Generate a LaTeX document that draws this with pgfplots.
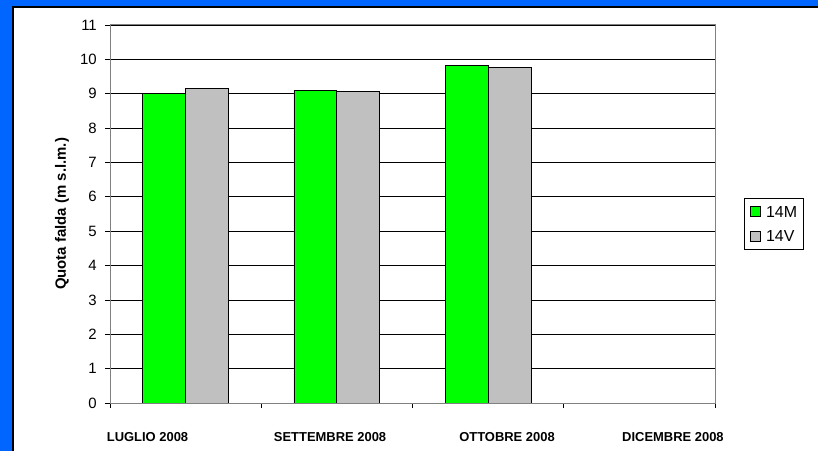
\documentclass[border=0pt]{standalone}
\usepackage{pgfplots}
\pgfplotsset{compat=1.18}
\usepackage{fontspec}
\setmainfont{Liberation Sans}
\definecolor{bgblue}{RGB}{0,102,255}
\definecolor{barg}{RGB}{0,255,0}
\definecolor{barv}{RGB}{192,192,192}
\pgfplotsset{sqlegend/.style={legend image code/.code={\draw[##1, draw=black, line width=0.6bp] (0bp,-5bp) rectangle (10bp,5bp);}}}
\begin{document}
\begin{tikzpicture}
\useasboundingbox (0bp,0bp) rectangle (818bp,451bp);
\fill[bgblue] (0bp,0bp) rectangle (818bp,451bp);
\fill[white] (13bp,0bp) rectangle (818bp,444bp);
\draw[black, line width=1.2bp] (13bp,0bp) -- (13bp,444bp) -- (818bp,444bp);
\begin{axis}[
  at={(110bp,48bp)}, anchor=south west,
  width=605bp, height=378bp, scale only axis,
  xmin=-0.5, xmax=3.5, ymin=0, ymax=11,
  ytick={0,1,2,3,4,5,6,7,8,9,10,11},
  ymajorgrids, grid style={black, line width=0.8bp},
  axis line style={gray, line width=1bp},
  tick pos=left,
  tick align=outside, major tick length=5bp, minor tick length=5bp,
  ytick style={black, line width=0.8bp},
  xtick={-0.252,0.955,2.125,3.222},
  xticklabels={LUGLIO 2008, SETTEMBRE 2008, OTTOBRE 2008, DICEMBRE 2008},
  minor xtick={-0.5,0.5,1.5,2.5,3.5},
  major x tick style={draw=none},
  minor x tick style={black, line width=0.8bp},
  xticklabel style={font=\bfseries\fontsize{13}{13}\selectfont, anchor=base, yshift=-33bp},
  yticklabel style={font=\fontsize{15}{15}\selectfont, anchor=east, inner sep=0pt, xshift=-8bp},
  /pgf/number format/assume math mode=true,
  ylabel={Quota falda (m s.l.m.)},
  ylabel style={font=\bfseries\fontsize{15}{15}\selectfont, at={(axis description cs:-0.0793,0.5)}, anchor=center},
  legend style={at={(rel axis cs:1.048,0.542)}, anchor=north west, draw=black, line width=0.8bp,
    font=\fontsize{16}{16}\selectfont, cells={anchor=west},
    nodes={inner sep=0pt, text height=11.5bp, text depth=1bp},
    row sep=12bp, column sep=5bp, inner xsep=6bp, inner ysep=7bp},
  ybar, bar width=0.284,
]
\addplot[fill=barg, draw=black, line width=0.8bp, bar shift=-0.142, sqlegend] coordinates {(0,9.02) (1,9.10) (2,9.81)};
\addplot[fill=barv, draw=black, line width=0.8bp, bar shift=0.142, sqlegend] coordinates {(0,9.16) (1,9.07) (2,9.77)};
\legend{14M,14V}
\draw[black, line width=1bp] (rel axis cs:0,0) -- (rel axis cs:1,0);
\draw[gray, line width=1bp] (rel axis cs:0,1) -- (rel axis cs:1,1);
\end{axis}
\end{tikzpicture}
\end{document}
